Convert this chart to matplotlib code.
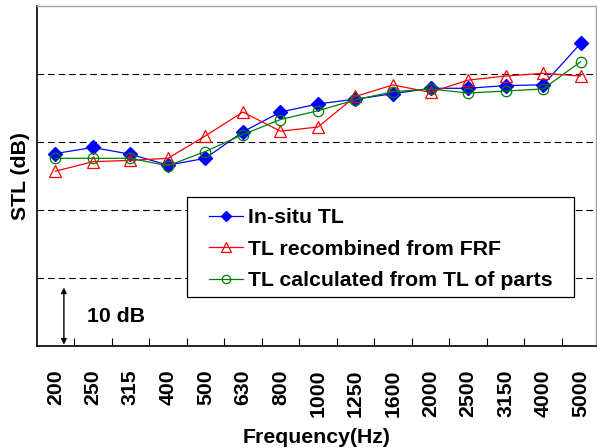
import matplotlib
matplotlib.use("Agg")
import matplotlib.pyplot as plt
from matplotlib.patches import Rectangle
import numpy as np

plt.rcParams['font.family'] = ['Liberation Sans', 'DejaVu Sans']
plt.rcParams['font.weight'] = 'bold'

freqs = ["200", "250", "315", "400", "500", "630", "800", "1000", "1250",
         "1600", "2000", "2500", "3150", "4000", "5000"]
insitu = [28.3, 29.2, 28.2, 26.6, 27.6, 31.5, 34.4, 35.6, 36.3, 37.1, 37.9,
          37.9, 38.3, 38.4, 44.5]
recomb = [25.7, 27.1, 27.3, 27.6, 30.9, 34.4, 31.6, 32.2, 36.7, 38.4, 37.3,
          39.1, 39.7, 40.1, 39.7]
parts = [27.6, 27.6, 27.6, 26.5, 28.6, 31.1, 33.3, 34.6, 36.2, 37.4, 37.8,
         37.2, 37.5, 37.8, 41.8]
grid_levels = [10, 20, 30, 40]

FS = 15.3
W, H = 597, 448
fig = plt.figure(figsize=(W / 100, H / 100), dpi=100)
ax = fig.add_axes([36.5 / W, (H - 346) / H, (596 - 36.5) / W, 340 / H])

x = np.arange(len(freqs))
ax.plot(x, insitu, color='#0000ff', lw=0.9, marker='D', ms=6.8,
        mfc='#0000ff', mec='#0000ff', label='In-situ TL', zorder=3)
ax.plot(x, recomb, color='#ff0000', lw=0.9, marker='^', ms=8.5,
        mfc='none', mec='#ff0000', mew=0.9, label='TL recombined from FRF', zorder=3)
ax.plot(x, parts, color='#008000', lw=0.9, marker='o', ms=7.5,
        mfc='none', mec='#008000', mew=0.9, label='TL calculated from TL of parts', zorder=3)

for g in grid_levels:
    ax.axhline(g, color='black', lw=0.8, ls=(0, (6, 3.5)), zorder=1)

ax.set_xlim(-0.5, 14.41)
ax.set_ylim(0, 50)
ax.set_yticks([])
ax.set_xticks(x)
ax.set_xticklabels(freqs, rotation=90, fontsize=FS, fontweight='bold')
ax.tick_params(axis='x', which='major', length=0, pad=17)
ax.set_xticks(np.arange(0.5, 14.5, 1), minor=True)
ax.tick_params(axis='x', which='minor', direction='in', length=6, width=0.8)

for s in ['top', 'right']:
    ax.spines[s].set_color('#a0a0a0')
    ax.spines[s].set_linewidth(1.0)
for s in ['left', 'bottom']:
    ax.spines[s].set_color('black')
    ax.spines[s].set_linewidth(1.2)

ax.set_xlabel('Frequency(Hz)', fontsize=FS, fontweight='bold', labelpad=7.5)
ax.set_ylabel('STL (dB)', fontsize=FS, fontweight='bold', labelpad=5)

ax.annotate('', xy=(0.23, 0.2), xytext=(0.23, 8.6),
            arrowprops=dict(arrowstyle='<|-|>', color='black', lw=1.0,
                            mutation_scale=8, shrinkA=0, shrinkB=0))
ax.text(0.84, 4.4, '10 dB', fontsize=FS, fontweight='bold', va='center', ha='left')

# legend frame drawn separately
fig.patches.append(Rectangle((187 / W, 1 - 297 / H), (574 - 187) / W, 100 / H,
                             transform=fig.transFigure, fill=True, facecolor='white',
                             edgecolor='black', lw=0.9, zorder=4))
leg = fig.legend(loc='upper left', bbox_to_anchor=(209 / W, 1 - 208 / H),
                 prop={'weight': 'bold', 'size': FS}, frameon=False,
                 markerscale=0.8, handlelength=1.6, handletextpad=0.25,
                 borderpad=0, labelspacing=0.6, borderaxespad=0)
leg.set_zorder(5)

fig.savefig('out.png', dpi=100)
